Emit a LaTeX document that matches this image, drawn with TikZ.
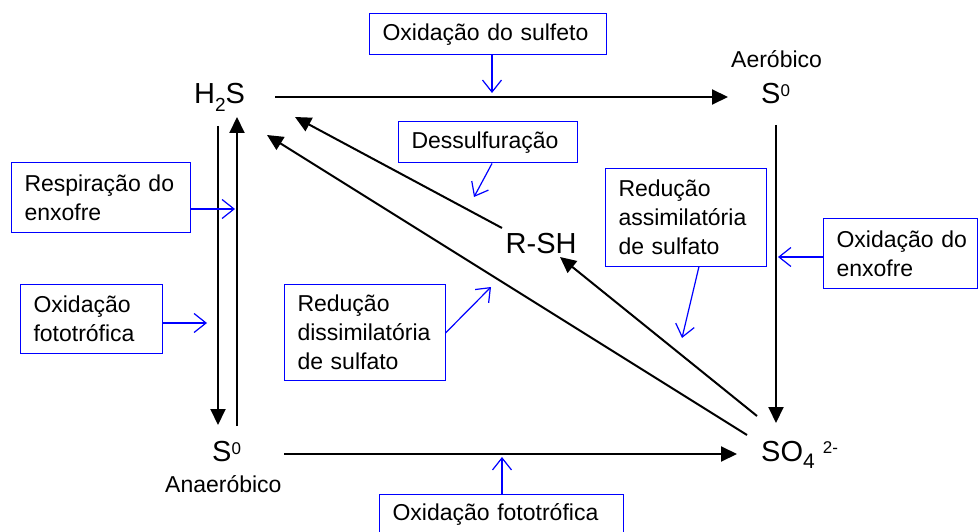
\documentclass[tikz,border=0pt]{standalone}
\usepackage{fontspec}
\setmainfont{Liberation Sans}
\usetikzlibrary{arrows.meta}
\newcommand{\chemfont}{\fontsize{29}{29}\selectfont}
\begin{document}
\begin{tikzpicture}[x=1pt,y=-1pt,
  chem/.style={inner sep=0pt,anchor=base west,font=\chemfont},
  small/.style={inner sep=0pt,anchor=base west,font=\fontsize{23}{23}\selectfont},
  lbox/.style={draw=blue,line width=1pt,inner xsep=13.5pt,inner ysep=0pt,align=left,
    font=\fontsize{23}{29}\selectfont},
  conn/.style={line width=2pt,-{Triangle[length=16pt,width=15pt]}},
  pointer/.style={draw=blue,line width=1.2pt,-{Straight Barb[length=12pt,width=19pt]}}]
\useasboundingbox (0,0) rectangle (978,532);
% chemical species
\node[chem] (h2s) at (194,104) {H\raisebox{-8pt}{\fontsize{19}{19}\selectfont 2}S};
\node[chem] (s0t) at (761,104) {S\raisebox{7pt}{\fontsize{17}{17}\selectfont 0}};
\node[chem] (s0b) at (212,461) {S\raisebox{7pt}{\fontsize{17}{17}\selectfont 0}};
\node[chem] (so4) at (761,461) {SO\raisebox{-7pt}{\fontsize{21}{21}\selectfont 4} \raisebox{8pt}{\fontsize{17}{17}\selectfont 2-}};
\node[chem] (rsh) at (505.5,254) {R-SH};
\node[small] (aer) at (731,68) {Aeróbico};
\node[small] (anaer) at (165,492) {Anaeróbico};
% connector end points
\coordinate (h2sE) at (275,97);
\coordinate (s0tW) at (728,97);
\coordinate (s0tS) at (776,125);
\coordinate (so4N) at (776,423);
\coordinate (s0bE) at (284,454);
\coordinate (so4W) at (737,454);
\coordinate (h2sSa) at (218,126);
\coordinate (s0bNa) at (218,425);
\coordinate (s0bNb) at (237,426);
\coordinate (h2sSb) at (237,117);
\coordinate (so4NWa) at (747,435);
\coordinate (h2sSE) at (267,135);
\coordinate (rshNW) at (502,228);
\coordinate (h2sSEb) at (295,117);
\coordinate (so4NWb) at (757,416);
\coordinate (rshSE) at (560,257);
% black connectors
\draw[conn] (h2sE) -- (s0tW);
\draw[conn] (s0tS) -- (so4N);
\draw[conn] (s0bE) -- (so4W);
\draw[conn] (h2sSa) -- (s0bNa);
\draw[conn] (s0bNb) -- (h2sSb);
\draw[conn] (so4NWa) -- (h2sSE);
\draw[conn] (rshNW) -- (h2sSEb);
\draw[conn] (so4NWb) -- (rshSE);
% label boxes
\node[lbox,minimum width=237pt,minimum height=41pt,text width=210pt] (b1) at (487.5,34.5) {Oxidação~do~sulfeto};
\node[lbox,minimum width=179pt,minimum height=41pt,text width=152pt] (b2) at (487.5,142.5) {Dessulfuração};
\node[lbox,minimum width=179pt,minimum height=69pt,text width=152pt] (b3) at (100.5,197.5) {Respiração~do\\enxofre};
\node[lbox,minimum width=142pt,minimum height=69pt,text width=115pt] (b4) at (91,318.5) {Oxidação\\fototrófica};
\node[lbox,minimum width=161pt,minimum height=96pt,text width=134pt] (b5) at (364.5,332) {Redução\\dissimilatória\\de~sulfato};
\node[lbox,minimum width=161pt,minimum height=97pt,text width=134pt] (b6) at (685.5,217.5) {Redução\\assimilatória\\de~sulfato};
\node[lbox,minimum width=154pt,minimum height=69pt,text width=127pt] (b7) at (900,253.5) {Oxidação~do\\enxofre};
\node[lbox,minimum width=244pt,minimum height=41pt,text width=217pt] (b8) at (501,514.5) {Oxidação~fototrófica};
% pointer tips
\coordinate (t1) at (492,93);
\coordinate (t2) at (474,197);
\coordinate (t3) at (235,209);
\coordinate (t4) at (207,323);
\coordinate (t5) at (491,287);
\coordinate (t6) at (682,338);
\coordinate (t7) at (778,257);
\coordinate (t8) at (502,457);
\draw[pointer] (b1.south -| t1) -- (t1);
\draw[pointer] ([xshift=4.5pt]b2.south) -- (t2);
\draw[pointer] (b3.east |- t3) -- (t3);
\draw[pointer] (b4.east |- t4) -- (t4);
\draw[pointer] ([yshift=-1pt]b5.east) -- (t5);
\draw[pointer] ([xshift=13.5pt]b6.south) -- (t6);
\draw[pointer] (b7.west |- t7) -- (t7);
\draw[pointer] (b8.north -| t8) -- (t8);
\end{tikzpicture}
\end{document}
